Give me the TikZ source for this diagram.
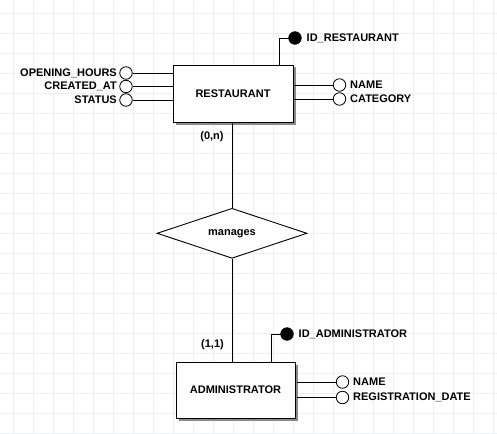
\documentclass[tikz,border=0pt]{standalone}
\usepackage{fontspec}
\setmainfont{Liberation Sans}
\usetikzlibrary{shapes.geometric,shadows}
\definecolor{gridc}{HTML}{ECEFF3}
\definecolor{shadowc}{HTML}{8A8A8A}
\begin{document}
\begin{tikzpicture}[x=1pt,y=-1pt,
  txt/.style={font=\fontsize{11}{13}\selectfont\bfseries},
  entity/.style={draw,fill=white,line width=0.9pt,rectangle,txt,
    drop shadow={shadow xshift=2.5pt,shadow yshift=-2.5pt,fill=shadowc,opacity=1}},
  rel/.style={draw,fill=white,line width=0.9pt,diamond,shape aspect=3,txt,inner sep=0pt},
  attr/.style={draw,fill=white,circle,line width=0.8pt,minimum size=12.5pt,inner sep=0pt},
  keyattr/.style={draw,fill=black,circle,line width=0.8pt,minimum size=12.5pt,inner sep=0pt},
  lbl/.style={txt,inner sep=0pt},
  conn/.style={line width=0.9pt}]
\useasboundingbox (0,0) rectangle (497,433);
\fill[white] (0,0) rectangle (497,433);
\foreach \g in {13,33,...,493} \draw[gridc,line width=0.8pt] (\g,0) -- (\g,433);
\foreach \g in {13,33,...,433} \draw[gridc,line width=0.8pt] (0,\g) -- (497,\g);

% entities and relationship
\node[entity,minimum width=120pt,minimum height=57pt] (rest) at (233,93.5) {RESTAURANT};
\node[entity,minimum width=119pt,minimum height=56pt] (adm) at (235.5,390) {ADMINISTRATOR};
\node[rel,minimum width=150pt,minimum height=50pt] (man) at (232,233.3) {manages};

% relationship connectors
\draw[conn] (man.north) -- (man.north |- rest.south);
\draw[conn] (man.south) -- (man.south |- adm.north);
\node[lbl] (card1) at (212,137) {(0,n)};
\node[lbl] (card2) at (212.5,345) {(1,1)};

% RESTAURANT attributes
\coordinate (rk) at ([xshift=46pt]rest.north);
\draw[conn] (rk) |- (295,38) coordinate (idrc);
\node[keyattr] (idr) at (idrc) {};
\node[lbl,anchor=west] (idrl) at (306.5,38) {ID\_RESTAURANT};

\node[attr] (a1) at (126,73) {};
\node[attr] (a2) at (126,86.5) {};
\node[attr] (a3) at (126,100) {};
\draw[conn] (a1.east) -- (a1.east -| rest.west);
\draw[conn] (a2.east) -- (a2.east -| rest.west);
\draw[conn] (a3.east) -- (a3.east -| rest.west);
\node[lbl,anchor=east] (a1l) at (117,73) {OPENING\_HOURS};
\node[lbl,anchor=east] (a2l) at (117,86.5) {CREATED\_AT};
\node[lbl,anchor=east] (a3l) at (117,100) {STATUS};

\node[attr] (b1) at (339.5,85) {};
\node[attr] (b2) at (339.5,99) {};
\draw[conn] (b1.west) -- (b1.west -| rest.east);
\draw[conn] (b2.west) -- (b2.west -| rest.east);
\node[lbl,anchor=west] (b1l) at (350,85) {NAME};
\node[lbl,anchor=west] (b2l) at (350,99) {CATEGORY};

% ADMINISTRATOR attributes
\coordinate (ak) at ([xshift=36pt]adm.north);
\draw[conn] (ak) |- (287,334) coordinate (idac);
\node[keyattr] (ida) at (idac) {};
\node[lbl,anchor=west] (idal) at (298.5,334) {ID\_ADMINISTRATOR};

\node[attr] (c1) at (342.5,382) {};
\node[attr] (c2) at (342.5,397.5) {};
\draw[conn] (c1.west) -- ([xshift=2pt]c1.west -| adm.east);
\draw[conn] (c2.west) -- ([xshift=2pt]c2.west -| adm.east);
\node[lbl,anchor=west] (c1l) at (353,382) {NAME};
\node[lbl,anchor=west] (c2l) at (353,397.5) {REGISTRATION\_DATE};
\end{tikzpicture}
\end{document}
